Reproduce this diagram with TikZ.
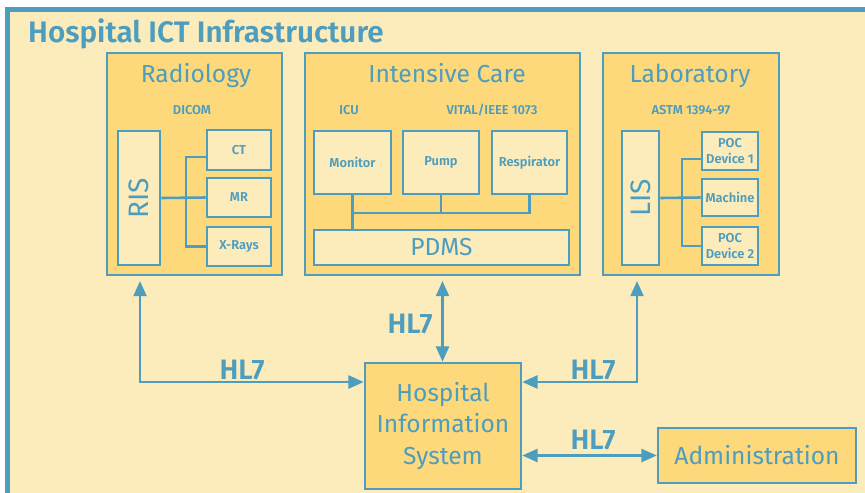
\documentclass[tikz,border=0pt]{standalone}
\usepackage{fontspec}
\setmainfont{Fira Sans}[BoldFont={Fira Sans SemiBold}]
\usetikzlibrary{positioning,arrows.meta,calc}
\definecolor{hblue}{RGB}{76,157,190}
\definecolor{hcream}{RGB}{252,235,187}
\definecolor{hgold}{RGB}{254,217,124}
\newcommand{\pxu}{0.03cm}
\newcommand{\fsz}[1]{\fontsize{#1}{1.2\dimexpr#1pt\relax}\selectfont}

\begin{document}
\begin{tikzpicture}[x=0.03cm, y=-0.03cm,
    dims/.style 2 args={minimum width=#1*\pxu, minimum height=#2*\pxu},
    dept/.style={draw=hblue, fill=hgold, line width=2.2pt, inner sep=0pt},
    unit/.style={draw=hblue, fill=hcream, line width=2.2pt, inner sep=0pt,
        text=hblue, align=center, font=\bfseries\fontsize{11}{13.6}\selectfont},
    title/.style={text=hblue, anchor=base, font=\fsz{21}},
    proto/.style={text=hblue, anchor=base, font=\bfseries\fsz{11}},
    hlabel/.style={text=hblue, anchor=base, font=\bfseries\fsz{24}},
    wire/.style={draw=hblue, line width=2.2pt},
    hlink/.style={draw=hblue, line width=2.2pt,
        {Triangle[length=13pt,width=11pt]}-{Triangle[length=13pt,width=11pt]}}]

    % page and outer frame
    \fill[white] (0,0) rectangle (865,492);
    \useasboundingbox (0,0) rectangle (865,492);
    \draw[draw=hblue, fill=hcream, line width=4.3pt] (7.5,9.8) rectangle (900,530);
    \node[text=hblue, anchor=base west, inner sep=0pt, font=\bfseries\fsz{25.3}] (infra) at (28,42) {Hospital ICT Infrastructure};

    % departments
    \node[dept, dims={175}{222}] (radiology) at (194.5,164) {};
    \node[dept, dims={275}{222}] (icare) at (442.5,164) {};
    \node[dept, dims={176}{222}] (lab) at (691,164) {};
    \node[title] (radtitle) at (196,82) {Radiology};
    \node[title] (ictitle) at (447,82) {Intensive Care};
    \node[title] (labtitle) at (690,82) {Laboratory};

    % radiology
    \node[proto] (dicom) at (192,114) {DICOM};
    \node[unit, dims={134}{42}, font=\fsz{24}, rotate=90] (ris) at (139,198) {RIS};
    \node[unit, dims={64}{40}] (ct) at (239,150) {CT};
    \node[unit, dims={64}{39}] (mr) at (239,197.5) {MR};
    \node[unit, dims={64}{39}] (xray) at (239,246.5) {X-Rays};
    \coordinate (risbus) at (186,198);
    \draw[wire] (ris.south) -- (mr.west);
    \draw[wire] ([yshift=-6]ct.west) -| (risbus |- xray.west) -- (xray.west);

    % intensive care
    \node[proto] (icu) at (349,114) {ICU};
    \node[proto] (vital) at (492,114) {VITAL/IEEE 1073};
    \node[unit, dims={77}{63}] (monitor) at (352.5,162.5) {Monitor};
    \node[unit, dims={76}{63}] (pump) at (441,162.5) {Pump};
    \node[unit, dims={75}{63}] (resp) at (529.5,162.5) {Respirator};
    \node[unit, dims={255}{35}, font=\fsz{21}] (pdms) at (441.5,247.5) {PDMS};
    \coordinate (icubus) at (352.5,213);
    \draw[wire] (monitor.south) -- (monitor.south |- pdms.north);
    \draw[wire] (resp.south) |- (icubus);
    \draw[wire] (pump.south) -- (pump.south |- icubus);

    % laboratory
    \node[proto] (astm) at (691,114) {ASTM 1394-97};
    \node[unit, dims={134}{37}, font=\fsz{24}, rotate=90] (lis) at (640.5,198) {LIS};
    \node[unit, dims={56}{38}, font=\bfseries\fontsize{11}{13.6}\selectfont] (poc1) at (730,151) {POC\\Device 1};
    \node[unit, dims={56}{37}] (machine) at (730,197.5) {Machine};
    \node[unit, dims={56}{38}, font=\bfseries\fontsize{11}{13.6}\selectfont] (poc2) at (730,246) {POC\\Device 2};
    \coordinate (lisbus) at (682,198);
    \draw[wire] (lis.south) -- (machine.west);
    \draw[wire] ([yshift=-7]poc1.west) -| (lisbus |- poc2.west) -- (poc2.west);

    % hospital information system
    \node[dept, dims={156}{126}, text=hblue, align=center, font=\fontsize{21}{27}\selectfont] (his) at (443,426) {Hospital\\Information\\System};
    \node[dept, dims={198}{55}, text=hblue, font=\fsz{21}] (admin) at (757,455.5) {Administration};

    % HL7 links
    \coordinate (radbend) at (140,382);
    \coordinate (labbend) at (637,382);
    \draw[hlink, shorten <=4pt] (radiology.south -| radbend) |- (his.west |- radbend);
    \draw[hlink, shorten <=4pt] (lab.south -| labbend) |- (his.east |- labbend);
    \draw[hlink, shorten <=4pt] (icare.south) -- (icare.south |- his.north);
    \draw[hlink] (admin.west -| his.east) -- (admin.west);
    \node[hlabel] (hlrad) at (242,379) {HL7};
    \node[hlabel] (hlic) at (410,333) {HL7};
    \node[hlabel] (hllab) at (593,379) {HL7};
    \node[hlabel] (hladmin) at (593,449) {HL7};

\end{tikzpicture}
\end{document}
